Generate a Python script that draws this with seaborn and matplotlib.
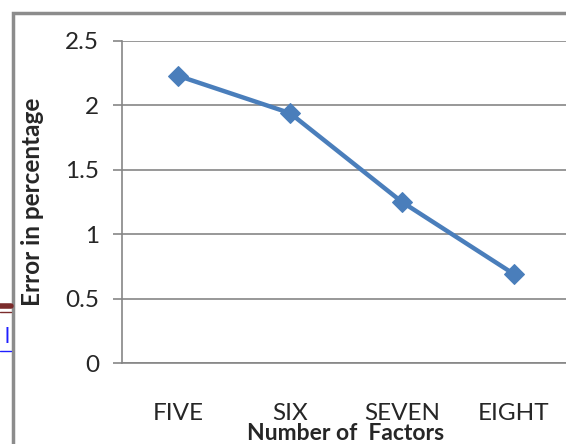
import matplotlib
matplotlib.use("Agg")
import matplotlib.pyplot as plt
from matplotlib.patches import Rectangle
from matplotlib.lines import Line2D
import pandas as pd
import seaborn as sns

factors = ["FIVE", "SIX", "SEVEN", "EIGHT"]
error_pct = [2.23, 1.94, 1.25, 0.69]
y_ticks = [0, 0.5, 1, 1.5, 2, 2.5]

sns.set_style("white")
plt.rcParams["font.family"] = ["Lato", "DejaVu Sans"]

grey = "#868686"
blue = "#4a7ebb"

df = pd.DataFrame({"factor": factors, "error": error_pct})

fig = plt.figure(figsize=(5.66, 4.44), dpi=100)
ax = fig.add_axes([122 / 566, 81 / 444, 448 / 566, 322 / 444])

sns.lineplot(data=df, x="factor", y="error", sort=False, ax=ax,
             color=blue, linewidth=3.2, marker="D", markersize=10,
             markeredgecolor=blue)

ax.set_xlim(-0.5, 3.5)
ax.set_ylim(0, 2.5)
ax.set_yticks(y_ticks)
ax.set_yticklabels(["0", "0.5", "1", "1.5", "2", "2.5"])
ax.yaxis.grid(True, color=grey, linewidth=1.2)
ax.set_axisbelow(True)

for side in ["top", "right"]:
    ax.spines[side].set_visible(False)
for side in ["left", "bottom"]:
    ax.spines[side].set_color(grey)
    ax.spines[side].set_linewidth(1.2)

ax.tick_params(axis="y", length=6.5, width=1.2, color=grey, pad=10,
               labelsize=17.5, direction="out", left=True)
ax.tick_params(axis="x", length=0, pad=29, labelsize=17.5, bottom=True)

ax.set_xlabel("Number of  Factors", fontsize=16.5, fontweight="bold", va="top")
ax.xaxis.set_label_coords(0.5, -(423 - 363) / 322)
ax.set_ylabel("Error in percentage", fontsize=17.5, fontweight="bold")
ax.yaxis.set_label_coords(-(122 - 44) / 448, 0.5)

# frame from the surrounding document
fig.patches.append(Rectangle((13 / 566, -0.1), 1.2, (444 - 13) / 444 + 0.1,
                             transform=fig.transFigure, fill=False,
                             edgecolor="#8c8c8c", linewidth=2.5))
# cropped bits of the page on the left
fig.lines.append(Line2D([0, 11 / 566], [1 - 306 / 444] * 2, transform=fig.transFigure,
                        color="#7b2c2c", linewidth=4))
fig.lines.append(Line2D([0, 11 / 566], [1 - 312 / 444] * 2, transform=fig.transFigure,
                        color="#7b2c2c", linewidth=1))
fig.text(4 / 566, 1 - 343 / 444, "l", color="#1f1fff", fontsize=15, ha="left", va="baseline")
fig.lines.append(Line2D([0, 11 / 566], [1 - 351 / 444] * 2, transform=fig.transFigure,
                        color="#1f1fff", linewidth=1))

fig.savefig("out.png", dpi=100)
